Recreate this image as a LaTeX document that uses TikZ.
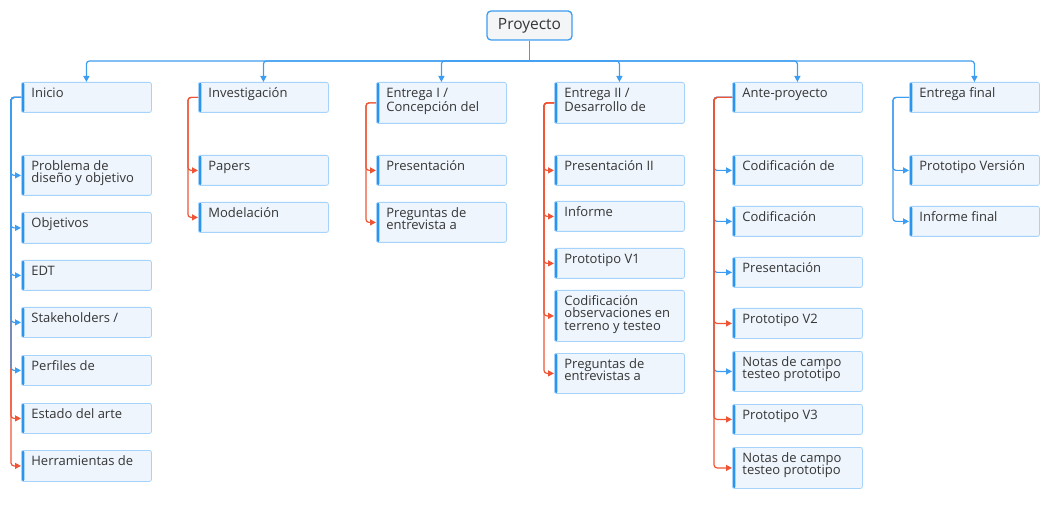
\documentclass[tikz,border=0pt]{standalone}
\usepackage{fontspec}
\setmainfont{Open Sans}
\usetikzlibrary{arrows.meta}
\definecolor{bl}{HTML}{3D9DF0}
\definecolor{rd}{HTML}{EF5535}
\definecolor{boxf}{HTML}{EEF5FD}
\definecolor{boxb}{HTML}{A6D3FB}
\definecolor{barc}{HTML}{2B95EE}
\definecolor{rootf}{HTML}{F3F5F7}
\definecolor{txt}{HTML}{353535}
\newcommand{\bxt}[2]{\parbox[c][#1][t]{110pt}{\raggedright\rule{0pt}{14.7pt}#2}}
\tikzset{
  leaf/.style={draw=boxb, fill=boxf, line width=0.8pt, rounded corners=2pt,
    anchor=north west, inner xsep=10pt, inner ysep=0pt, text=txt,
    font=\fontsize{13pt}{12.8pt}\selectfont,
    path picture={\fill[barc] ([xshift=-1pt]path picture bounding box.north west) rectangle ([xshift=3pt]path picture bounding box.south west);}},
  rootbox/.style={draw=bl, fill=rootf, line width=1.3pt, rounded corners=4pt,
    minimum width=85pt, minimum height=29pt, inner sep=0pt, text=txt,
    font=\fontsize{15.5pt}{16pt}\selectfont},
  conn/.style={line width=1.2pt, rounded corners=3pt, -{Triangle[length=6pt,width=6pt]}},
  bconn/.style={conn, draw=bl},
  rconn/.style={conn, draw=rd}
}
\begin{document}
\begin{tikzpicture}[x=1pt,y=-1pt]
\useasboundingbox (0,0) rectangle (1051,526);
\coordinate (bus) at (0,61);
% root
\node[rootbox] (root) at (529.5,25.5) {Proyecto};
% level 1
\node[leaf] (c1) at (21,82) {\bxt{30pt}{Inicio}};
\node[leaf] (c2) at (198,82) {\bxt{30pt}{Investigación}};
\node[leaf] (c3) at (376,82) {\bxt{41pt}{Entrega I /\\Concepción del}};
\node[leaf] (c4) at (554,82) {\bxt{41pt}{Entrega II /\\Desarrollo de}};
\node[leaf] (c5) at (732,82) {\bxt{30pt}{Ante-proyecto}};
\node[leaf] (c6) at (909,82) {\bxt{30pt}{Entrega final}};
% Inicio children
\node[leaf] (a1) at (21,155) {\bxt{40pt}{Problema de\\diseño y objetivo}};
\node[leaf] (a2) at (21,212) {\bxt{31pt}{Objetivos}};
\node[leaf] (a3) at (21,260) {\bxt{30pt}{EDT}};
\node[leaf] (a4) at (21,307) {\bxt{30pt}{Stakeholders /}};
\node[leaf] (a5) at (21,355) {\bxt{30pt}{Perfiles de}};
\node[leaf] (a6) at (21,403) {\bxt{30pt}{Estado del arte}};
\node[leaf] (a7) at (21,450) {\bxt{31pt}{Herramientas de}};
% Investigacion children
\node[leaf] (b1) at (198,155) {\bxt{30pt}{Papers}};
\node[leaf] (b2) at (198,202) {\bxt{30pt}{Modelación}};
% Entrega I children
\node[leaf] (d1) at (376,155) {\bxt{30pt}{Presentación}};
\node[leaf] (d2) at (376,202) {\bxt{40pt}{Preguntas de\\entrevista a}};
% Entrega II children
\node[leaf] (e1) at (554,155) {\bxt{30pt}{Presentación II}};
\node[leaf] (e2) at (554,201) {\bxt{30pt}{Informe}};
\node[leaf] (e3) at (554,248) {\bxt{30pt}{Prototipo V1}};
\node[leaf] (e4) at (554,290) {\bxt{51pt}{Codificación\\observaciones en\\terreno y testeo}};
\node[leaf] (e5) at (554,353) {\bxt{40pt}{Preguntas de\\entrevistas a}};
% Ante-proyecto children
\node[leaf] (f1) at (732,155) {\bxt{30pt}{Codificación de}};
\node[leaf] (f2) at (732,206) {\bxt{30pt}{Codificación}};
\node[leaf] (f3) at (732,257) {\bxt{30pt}{Presentación}};
\node[leaf] (f4) at (732,308) {\bxt{30pt}{Prototipo V2}};
\node[leaf] (f5) at (732,351) {\bxt{40pt}{Notas de campo\\testeo prototipo}};
\node[leaf] (f6) at (732,404) {\bxt{30pt}{Prototipo V3}};
\node[leaf] (f7) at (732,447) {\bxt{41pt}{Notas de campo\\testeo prototipo}};
% Entrega final children
\node[leaf] (g1) at (909,155) {\bxt{30pt}{Prototipo Versión}};
\node[leaf] (g2) at (909,206) {\bxt{30pt}{Informe final}};
% root to level 1
\draw[draw=bl, line width=1.5pt] (root.south) -- (root.south |- bus);
\foreach \c in {c1,c2,c3,c4,c5,c6}
  \draw[bconn] (root.south |- bus) -| (\c.north);
% Inicio
\foreach \k in {a6,a7}
  \draw[rconn] (c1.west) -- ++(-10,0) |- (\k.west);
\foreach \k in {a1,a2,a3,a4,a5}
  \draw[bconn] (c1.west) -- ++(-10,0) |- (\k.west);
% Investigacion
\foreach \k in {b1,b2}
  \draw[rconn] (c2.west) -- ++(-10,0) |- (\k.west);
% Entrega I
\foreach \k in {d1,d2}
  \draw[rconn] (c3.west) -- ++(-10,0) |- (\k.west);
% Entrega II
\foreach \k in {e1,e2,e3,e4,e5}
  \draw[rconn] (c4.west) -- ++(-10,0) |- (\k.west);
% Ante-proyecto
\foreach \k in {f1,f2,f3,f5}
  \draw[bconn] (c5.west) -- ++(-18,0) |- (\k.west);
\foreach \k in {f4,f6,f7}
  \draw[rconn] (c5.west) -- ++(-18,0) |- (\k.west);
% Entrega final
\foreach \k in {g1,g2}
  \draw[bconn] (c6.west) -- ++(-16,0) |- (\k.west);
\end{tikzpicture}
\end{document}
